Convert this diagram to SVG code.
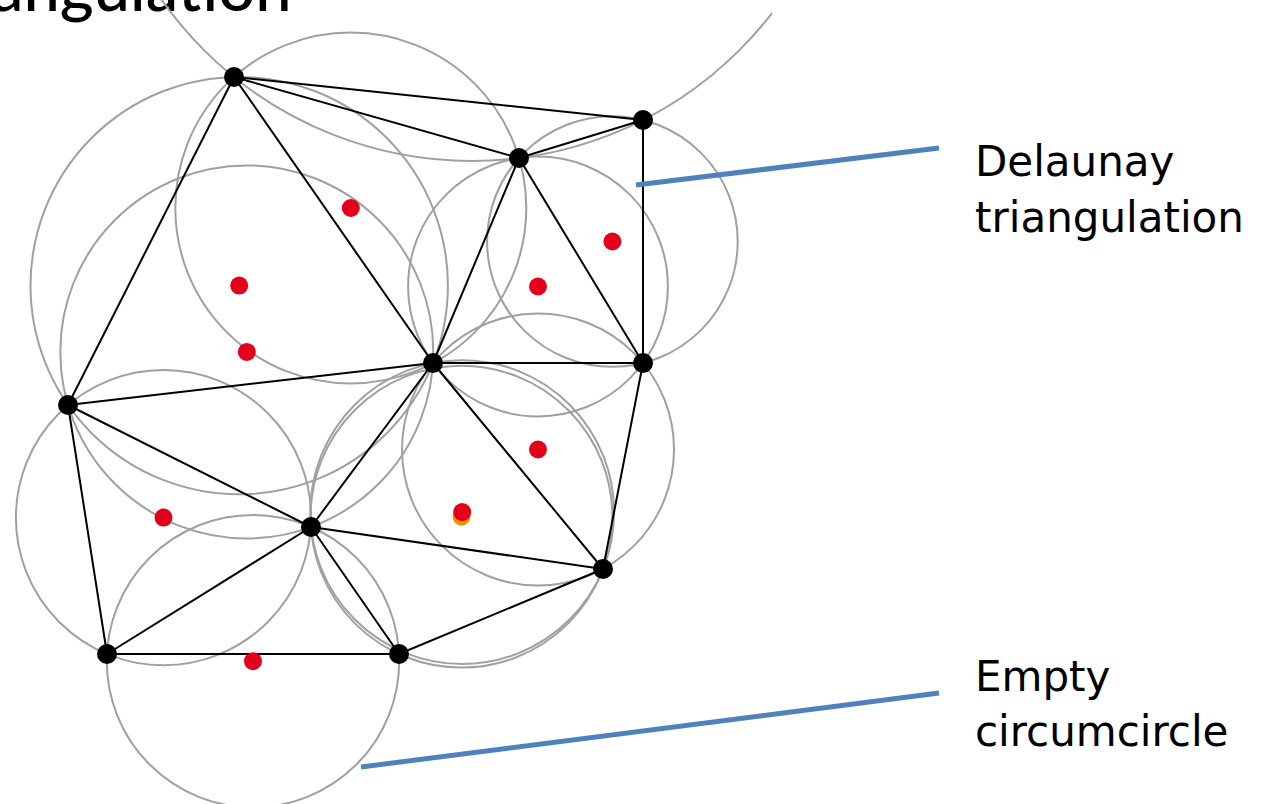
<svg xmlns="http://www.w3.org/2000/svg" width="1261" height="804" viewBox="0 0 1261 804">
<style>
.cc{fill:none;stroke:#A0A0A0;stroke-width:2}
.e{stroke:#000;stroke-width:2;stroke-linecap:round}
.v{fill:#000}
.ctr{fill:#E3001B}
.lead{stroke:#4F81BD;stroke-width:5}
.lbl{font-family:"DejaVu Sans",sans-serif;font-size:42px;fill:#000}
.ttl{font-family:Lato,"Liberation Sans",sans-serif;font-size:65px;fill:#000;font-weight:500}
</style>
<defs>
<clipPath id="topclip"><rect x="0" y="0" width="772" height="804"/></clipPath>
</defs>
<rect width="1261" height="804" fill="#fff"/>
<text class="ttl" x="-9" y="11">angulation</text>
<g id="circumcircles">
<circle class="cc" cx="471.7" cy="-217.6" r="378.6" clip-path="url(#topclip)"/>
<circle class="cc" cx="350.8" cy="208" r="175.5"/>
<circle class="cc" cx="239.2" cy="285.6" r="208.7"/>
<circle class="cc" cx="246.8" cy="351.9" r="186.5"/>
<circle class="cc" cx="538" cy="286.5" r="129.9"/>
<circle class="cc" cx="612.4" cy="241.5" r="125.3"/>
<circle class="cc" cx="538" cy="449.5" r="136"/>
<circle class="cc" cx="462.2" cy="512.1" r="151.9"/>
<circle class="cc" cx="461.5" cy="516.7" r="150.9"/>
<circle class="cc" cx="163.5" cy="517.6" r="147.6"/>
<circle class="cc" cx="253" cy="661.2" r="146.2"/>
</g>
<g id="connectors">
<line class="e" x1="234" y1="77" x2="643" y2="120"/>
<line class="e" x1="234" y1="77" x2="519" y2="158"/>
<line class="e" x1="519" y1="158" x2="643" y2="120"/>
<line class="e" x1="234" y1="77" x2="433" y2="363"/>
<line class="e" x1="234" y1="77" x2="68" y2="405"/>
<line class="e" x1="519" y1="158" x2="433" y2="363"/>
<line class="e" x1="519" y1="158" x2="643" y2="363"/>
<line class="e" x1="643" y1="120" x2="643" y2="363"/>
<line class="e" x1="433" y1="363" x2="643" y2="363"/>
<line class="e" x1="433" y1="363" x2="68" y2="405"/>
<line class="e" x1="68" y1="405" x2="311" y2="527"/>
<line class="e" x1="433" y1="363" x2="311" y2="527"/>
<line class="e" x1="433" y1="363" x2="603" y2="569"/>
<line class="e" x1="643" y1="363" x2="603" y2="569"/>
<line class="e" x1="311" y1="527" x2="603" y2="569"/>
<line class="e" x1="311" y1="527" x2="399" y2="654"/>
<line class="e" x1="603" y1="569" x2="399" y2="654"/>
<line class="e" x1="68" y1="405" x2="107" y2="654"/>
<line class="e" x1="107" y1="654" x2="311" y2="527"/>
<line class="e" x1="107" y1="654" x2="399" y2="654"/>
<line class="lead" x1="636" y1="185" x2="939" y2="148"/>
<line class="lead" x1="361" y1="767" x2="939" y2="693"/>
</g>
<g id="circumcenters">
<circle fill="#F39200" cx="461.5" cy="516.7" r="9"/>
<circle class="ctr" cx="350.8" cy="208" r="9"/>
<circle class="ctr" cx="239.2" cy="285.6" r="9"/>
<circle class="ctr" cx="246.8" cy="351.9" r="9"/>
<circle class="ctr" cx="538" cy="286.5" r="9"/>
<circle class="ctr" cx="612.4" cy="241.5" r="9"/>
<circle class="ctr" cx="538" cy="449.5" r="9"/>
<circle class="ctr" cx="462.2" cy="512.1" r="9"/>
<circle class="ctr" cx="163.5" cy="517.6" r="9"/>
<circle class="ctr" cx="253" cy="661.2" r="9"/>
</g>
<g id="vA"><circle class="v" cx="234" cy="77" r="10"/></g>
<g id="vB"><circle class="v" cx="643" cy="120" r="10"/></g>
<g id="vC"><circle class="v" cx="519" cy="158" r="10"/></g>
<g id="vD"><circle class="v" cx="433" cy="363" r="10"/></g>
<g id="vE"><circle class="v" cx="643" cy="363" r="10"/></g>
<g id="vF"><circle class="v" cx="68" cy="405" r="10"/></g>
<g id="vG"><circle class="v" cx="311" cy="527" r="10"/></g>
<g id="vH"><circle class="v" cx="603" cy="569" r="10"/></g>
<g id="vI"><circle class="v" cx="107" cy="654" r="10"/></g>
<g id="vJ"><circle class="v" cx="399" cy="654" r="10"/></g>
<g id="label-delaunay"><text class="lbl" x="975" y="176">Delaunay</text><text class="lbl" x="975" y="232">triangulation</text></g>
<g id="label-empty"><text class="lbl" x="975" y="691">Empty</text><text class="lbl" x="975" y="746">circumcircle</text></g>
</svg>
